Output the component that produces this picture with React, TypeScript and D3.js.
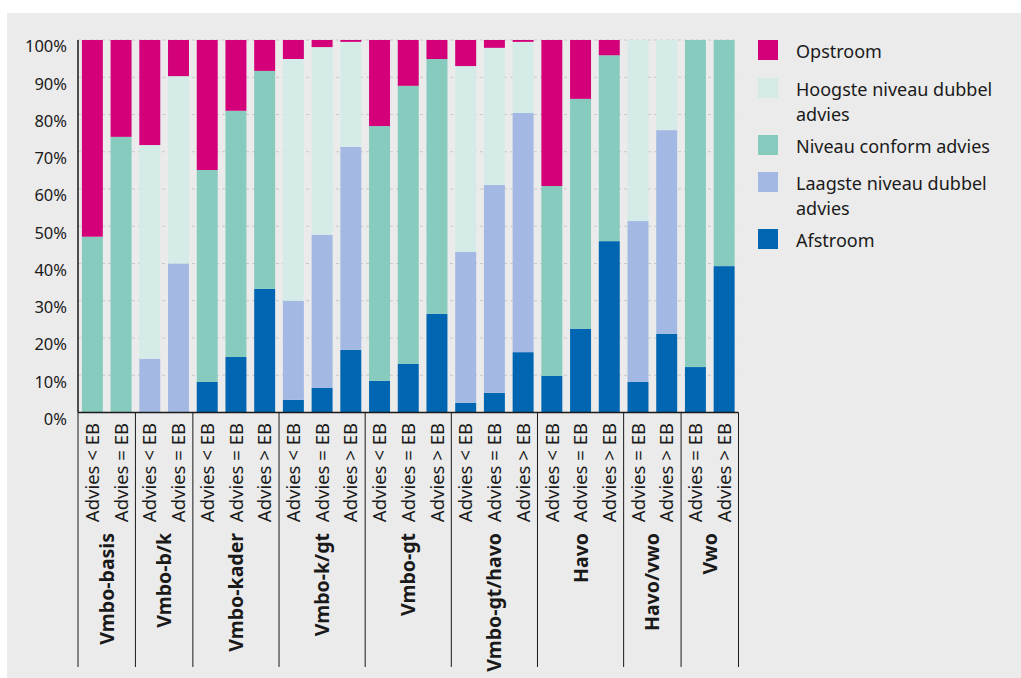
import React from "react";
import * as d3 from "d3";

const groups = ["Vmbo-basis", "Vmbo-b/k", "Vmbo-kader", "Vmbo-k/gt", "Vmbo-gt", "Vmbo-gt/havo", "Havo", "Havo/vwo", "Vwo"];
const groupSubs = [
  ["Advies < EB", "Advies = EB"],
  ["Advies < EB", "Advies = EB"],
  ["Advies < EB", "Advies = EB", "Advies > EB"],
  ["Advies < EB", "Advies = EB", "Advies > EB"],
  ["Advies < EB", "Advies = EB", "Advies > EB"],
  ["Advies < EB", "Advies = EB", "Advies > EB"],
  ["Advies < EB", "Advies = EB", "Advies > EB"],
  ["Advies = EB", "Advies > EB"],
  ["Advies = EB", "Advies > EB"],
];

const seriesNames = ["Afstroom", "Laagste niveau dubbel advies", "Niveau conform advies", "Hoogste niveau dubbel advies", "Opstroom"];
const seriesColors = ["#0066b1", "#a3b9e3", "#87cabe", "#d5ebe7", "#d3007a"];

// values per bar in order of bars
const afstroom = [0, 0, 0, 0, 8.2, 14.9, 33.2, 3.4, 6.6, 16.8, 8.5, 13.1, 26.5, 2.6, 5.3, 16.2, 9.8, 22.5, 46.0, 8.2, 21.1, 12.2, 39.3];
const laagste = [0, 0, 14.4, 40.0, 0, 0, 0, 26.6, 41.1, 54.5, 0, 0, 0, 40.5, 55.8, 64.2, 0, 0, 0, 43.2, 54.7, 0, 0];
const conform = [47.2, 74.0, 0, 0, 56.9, 66.1, 58.5, 0, 0, 0, 68.4, 74.6, 68.4, 0, 0, 0, 51.0, 61.7, 49.9, 0, 0, 87.8, 60.7];
const hoogste = [0, 0, 57.4, 50.3, 0, 0, 0, 64.9, 50.4, 28.2, 0, 0, 0, 49.9, 36.8, 19.1, 0, 0, 0, 48.6, 24.2, 0, 0];
const opstroom = [52.8, 26.0, 28.2, 9.7, 34.9, 19.0, 8.3, 5.1, 1.9, 0.5, 23.1, 12.3, 5.1, 7.0, 2.1, 0.5, 39.2, 15.8, 4.1, 0, 0, 0, 0];

const yTicks = [0, 10, 20, 30, 40, 50, 60, 70, 80, 90, 100];

const legendItems = [
  { name: "Opstroom", lines: ["Opstroom"], color: "#d3007a" },
  { name: "Hoogste", lines: ["Hoogste niveau dubbel", "advies"], color: "#d5ebe7" },
  { name: "Niveau", lines: ["Niveau conform advies"], color: "#87cabe" },
  { name: "Laagste", lines: ["Laagste niveau dubbel", "advies"], color: "#a3b9e3" },
  { name: "Afstroom", lines: ["Afstroom"], color: "#0066b1" },
];

const FONT = "'Noto Sans', 'Open Sans', sans-serif";

export default function App() {
  const W = 1021, H = 678;
  const left = 78, right = 738.5, top = 40, bottom = 412.5;

  const bars: { id: string; label: string; group: number }[] = [];
  groupSubs.forEach((subs, gi) => subs.forEach((s, si) => bars.push({ id: `${gi}-${si}`, label: s, group: gi })));

  const x = d3.scaleBand<string>().domain(bars.map(b => b.id)).range([left, right]).paddingInner(0.27).paddingOuter(0.135);
  const y = d3.scaleLinear().domain([0, 100]).range([bottom, top]);
  const step = x.step();

  const seriesData = [afstroom, laagste, conform, hoogste, opstroom];
  const table = bars.map((b, i) => {
    const row: any = { id: b.id };
    seriesNames.forEach((n, k) => (row[n] = seriesData[k][i]));
    return row;
  });
  const stacked = d3.stack().keys(seriesNames)(table);

  const boundaries: number[] = [left];
  let idx = 0;
  const groupCenters: number[] = [];
  groupSubs.forEach(subs => {
    const start = left + idx * step;
    idx += subs.length;
    const end = left + idx * step;
    boundaries.push(end);
    groupCenters.push((start + end) / 2);
  });

  return (
    <svg width={W} height={H} style={{ position: "absolute", left: 0, top: 0, background: "#fff" }}>
      <rect x={7} y={13} width={W - 7} height={H - 13} fill="#ebebeb" />
      {yTicks.map(t => (
        <g key={t}>
          {t > 0 && (
            <line x1={left} x2={right} y1={y(t)} y2={y(t)} stroke="#c9c9c9" strokeDasharray="3,3" strokeWidth={1} />
          )}
          <text x={67} y={y(t) + 6.5} dy="0.36em" textAnchor="end" fontFamily={FONT} fontSize={16.5} fill="#1a1a1a">
            {t}%
          </text>
        </g>
      ))}
      {stacked.map((s, k) => (
        <g key={s.key} fill={seriesColors[k]}>
          {s.map((d, i) => (
            d[1] - d[0] > 0 ? (
              <rect key={i} x={x(bars[i].id)} width={x.bandwidth()} y={y(d[1])} height={y(d[0]) - y(d[1])} />
            ) : null
          ))}
        </g>
      ))}
      <line x1={left} x2={left} y1={top} y2={bottom} stroke="#1a1a1a" strokeWidth={1.5} />
      <line x1={left} x2={right} y1={bottom} y2={bottom} stroke="#1a1a1a" strokeWidth={1.5} />
      {boundaries.map((b, i) => (
        <line key={i} x1={b} x2={b} y1={bottom} y2={667} stroke="#1a1a1a" strokeWidth={1} />
      ))}
      {bars.map(b => {
        const cx = (x(b.id) as number) + x.bandwidth() / 2;
        return (
          <text key={b.id} transform={`translate(${cx},${423}) rotate(-90)`} textAnchor="end" dy="0.36em"
            fontFamily={FONT} fontSize={18.5} fill="#1a1a1a">
            {b.label}
          </text>
        );
      })}
      {groups.map((g, i) => (
        <text key={g} transform={`translate(${groupCenters[i]},${533}) rotate(-90)`} textAnchor="end" dy="0.36em"
          fontFamily={FONT} fontSize={19.5} fontWeight="bold" fill="#1a1a1a">
          {g}
        </text>
      ))}
      {legendItems.map((it, i) => {
        const sy = [40, 78, 135, 172, 229][i];
        return (
          <g key={it.name}>
            <rect x={758} y={sy} width={20} height={20} fill={it.color} />
            {it.lines.map((ln, j) => (
              <text key={j} x={796} y={sy + 18 + j * 25} fontFamily={FONT} fontSize={18} fill="#1a1a1a">
                {ln}
              </text>
            ))}
          </g>
        );
      })}
    </svg>
  );
}
